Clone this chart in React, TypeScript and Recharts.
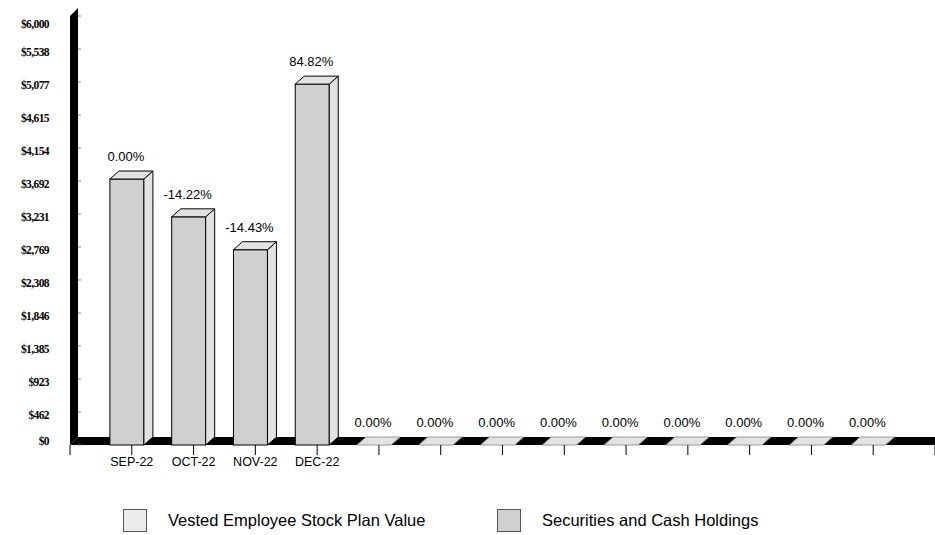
import { BarChart, Bar, XAxis, YAxis, ReferenceArea, LabelList } from 'recharts'

// category slots sit at 1..13 on a 0..14 axis (end ticks are the axis edges)
const months = ['SEP-22', 'OCT-22', 'NOV-22', 'DEC-22', '', '', '', '', '', '', '', '', '']
const holdings = [3720, 3191, 2731, 5047, 0, 0, 0, 0, 0, 0, 0, 0, 0]
const changes = [
  '0.00%', '-14.22%', '-14.43%', '84.82%', '0.00%', '0.00%', '0.00%',
  '0.00%', '0.00%', '0.00%', '0.00%', '0.00%', '0.00%',
]
const xTicks = [0, 1, 2, 3, 4, 5, 6, 7, 8, 9, 10, 11, 12, 13, 14]
const yTicks = [0, 462, 923, 1385, 1846, 2308, 2769, 3231, 3692, 4154, 4615, 5077, 5538, 6000]

const legendItems = [
  { name: 'Vested Employee Stock Plan Value', color: '#ececec' },
  { name: 'Securities and Cash Holdings', color: '#d0d0d0' },
]

const data = months.map((m, i) => ({
  pos: i + 1,
  month: m,
  value: holdings[i],
  change: changes[i],
}))

const SIDE = 9 // 3d depth, horizontal
const DEPTH = 8 // 3d depth, vertical

function Bar3D(props: any) {
  const { x, y, width, height } = props
  const fw = width - SIDE
  const bottom = y + height
  const top = `M${x},${y} L${x + SIDE},${y - DEPTH} L${x + width},${y - DEPTH} L${x + fw},${y} Z`
  const side = `M${x + fw},${y} L${x + width},${y - DEPTH} L${x + width},${bottom - DEPTH} L${x + fw},${bottom} Z`
  const solid = height > 0
  return (
    <g>
      {solid && <rect x={x} y={y} width={fw} height={height} fill="#d0d0d0" stroke="#000" />}
      {solid && <path d={side} fill="#e2e2e2" stroke="#000" />}
      <path d={top} fill="#e2e2e2" stroke={solid ? '#000' : '#9a9a9a'} />
    </g>
  )
}

// black wall + floor of the 3d plot
function WallFloor(props: any) {
  const { x, y, width, height } = props
  const b = y + height
  const w = 8
  return (
    <g>
      <path d={`M${x},${b} L${x},${y} L${x + w},${y - DEPTH} L${x + w},${b - DEPTH} Z`} fill="#000" />
      <path d={`M${x},${b} L${x + width},${b} L${x + width},${b - DEPTH} L${x + w},${b - DEPTH} Z`} fill="#000" />
    </g>
  )
}

function YTick(props: any) {
  const { x, y, payload, index } = props
  const label = '$' + Math.round(payload.value).toLocaleString('en-US')
  let dy = 3
  if (index === 0) dy = -4
  if (index === yTicks.length - 1) dy = 8
  return (
    <g>
      <line x1={x + 29} x2={x + 32} y1={y} y2={y} stroke="#888" />
      <text
        x={x}
        y={y + dy}
        textAnchor="end"
        dominantBaseline="central"
        fontFamily="'Liberation Serif', 'Times New Roman', serif"
        fontWeight="bold"
        fontSize={11.5}
        letterSpacing={-0.6}
        fill="#000"
      >
        {label}
      </text>
    </g>
  )
}

function ChangeLabel(props: any) {
  const { x, y, width, value } = props
  const cx = x + (width - SIDE) / 2 - 1
  return (
    <text x={cx} y={y - DEPTH - 10} textAnchor="middle" fontSize={13} fill="#000">
      {value}
    </text>
  )
}

export default function App() {
  return (
    <div
      style={{
        position: 'absolute',
        left: 0,
        top: 0,
        width: 935,
        height: 535,
        background: '#fff',
        fontFamily: "'Liberation Sans', Arial, sans-serif",
      }}
    >
      <BarChart
        width={935}
        height={535}
        data={data}
        margin={{ top: 16, right: 0, bottom: 60, left: 0 }}
      >
        <XAxis
          type="number"
          dataKey="pos"
          domain={[0, 14]}
          ticks={xTicks}
          interval={0}
          axisLine={false}
          stroke="#000"
          tickSize={10}
          tickMargin={2}
          height={30}
          tick={{ fill: '#000', fontSize: 12.5 }}
          tickFormatter={(v: number) => months[v - 1] ?? ''}
        />
        <YAxis
          domain={[0, 6000]}
          ticks={yTicks}
          interval={0}
          width={70}
          axisLine={false}
          tickLine={false}
          tickSize={0}
          tickMargin={21}
          tick={<YTick />}
        />
        <ReferenceArea x1={0} x2={14} y1={0} y2={6000} shape={<WallFloor />} />
        <Bar dataKey="value" barSize={43} shape={<Bar3D />} isAnimationActive={false}>
          <LabelList dataKey="change" content={<ChangeLabel />} />
        </Bar>
      </BarChart>
      <div
        style={{
          position: 'absolute',
          left: 0,
          top: 509,
          width: 935,
          display: 'flex',
          fontSize: 16.5,
          color: '#000',
        }}
      >
        {legendItems.map((item, i) => (
          <div
            key={item.name}
            style={{
              display: 'flex',
              alignItems: 'center',
              marginLeft: i === 0 ? 123 : 0,
              width: i === 0 ? 374 : 'auto',
            }}
          >
            <span
              style={{
                display: 'inline-block',
                width: 22,
                height: 21,
                background: item.color,
                border: '1px solid #555',
                marginRight: 21,
              }}
            />
            <span>{item.name}</span>
          </div>
        ))}
      </div>
    </div>
  )
}
